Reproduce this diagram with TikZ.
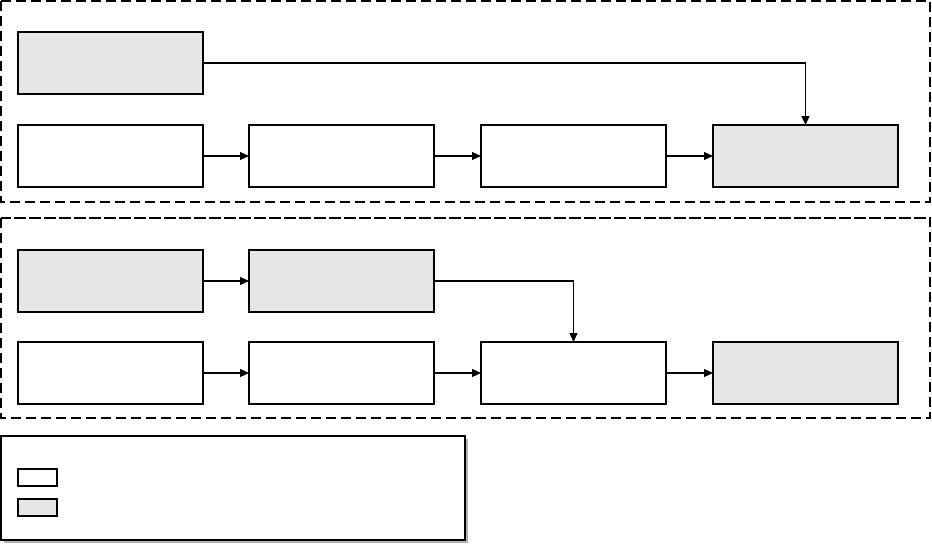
\documentclass[tikz,border=0pt]{standalone}
\usetikzlibrary{arrows.meta}
\definecolor{boxgray}{HTML}{E6E6E6}
\definecolor{shadowgray}{HTML}{B0B0B0}
\begin{document}
\begin{tikzpicture}[x=1pt,y=-1pt,
  blk/.style={draw=black,line width=1.2pt,minimum width=185pt,minimum height=62pt,inner sep=0pt,outer sep=0pt,anchor=north west,fill=white},
  gblk/.style={blk,fill=boxgray},
  frame/.style={draw=black,line width=1.2pt,dash pattern=on 10pt off 5pt},
  conn/.style={draw=black,line width=1.2pt,-{Triangle[length=9pt,width=8pt]}},
  leg/.style={draw=black,line width=1.2pt,minimum width=39pt,minimum height=17pt,inner sep=0pt,outer sep=0pt,anchor=north west}
]
\useasboundingbox (0,0) rectangle (932,547);
% frames
\draw[frame] (1,1) rectangle (930,202);
\draw[frame] (1,218) rectangle (930,418);
\draw[frame,line width=2.2pt] (1,218) -- (930,218);
% frame 1
\node[gblk] (a) at (18,32) {};
\node[blk] (b1) at (18,125) {};
\node[blk] (b2) at (249,125) {};
\node[blk] (b3) at (481,125) {};
\node[gblk] (b4) at (713,125) {};
\draw[conn] (a.east) -| (b4.north);
\draw[conn] (b1) -- (b2);
\draw[conn] (b2) -- (b3);
\draw[conn] (b3) -- (b4);
% frame 2
\node[gblk] (c1) at (18,250) {};
\node[gblk] (c2) at (249,250) {};
\node[blk] (d1) at (18,342) {};
\node[blk] (d2) at (249,342) {};
\node[blk] (d3) at (481,342) {};
\node[gblk] (d4) at (713,342) {};
\draw[conn] (c1) -- (c2);
\draw[conn] (c2.east) -| (d3.north);
\draw[conn] (d1) -- (d2);
\draw[conn] (d2) -- (d3);
\draw[conn] (d3) -- (d4);
% legend
\fill[shadowgray] (4,439) rectangle (468,543);
\node[draw=black,line width=1.2pt,fill=white,minimum width=464pt,minimum height=104pt,inner sep=0pt,outer sep=0pt,anchor=north west] (legend) at (1,436) {};
\node[leg,fill=white] (l1) at (18,469) {};
\node[leg,fill=boxgray] (l2) at (18,499) {};
\end{tikzpicture}
\end{document}
